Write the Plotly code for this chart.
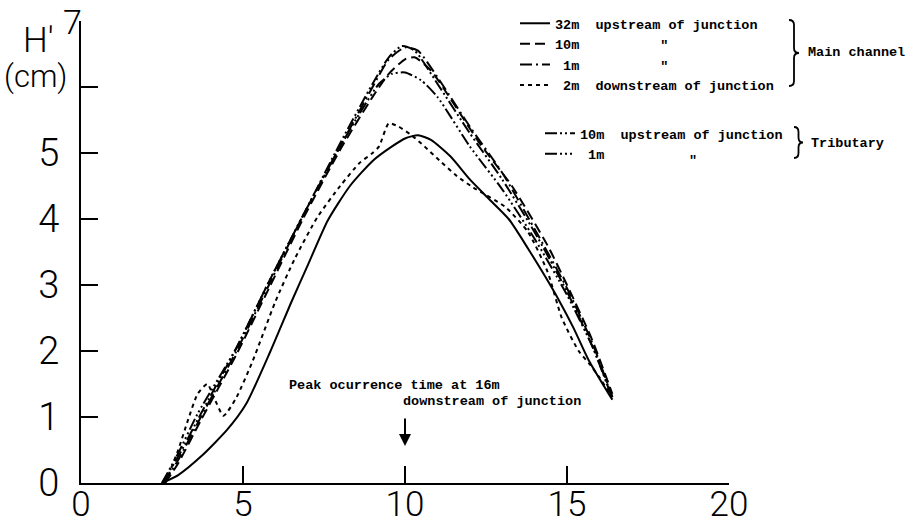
import plotly.graph_objects as go

# ---------------- data ----------------
# Main channel, 32 m upstream of junction (solid)
t_m32 = [2.5, 3.0, 3.7, 4.5, 5.1, 5.85, 6.5, 7.0, 7.62, 8.3, 9.0, 9.6, 10.0, 10.4, 10.8, 11.4, 12.0, 12.6, 13.2, 13.8, 14.3, 14.75, 15.2, 15.67, 16.4]
h_m32 = [0.0, 0.12, 0.4, 0.8, 1.2, 2.0, 2.75, 3.3, 3.98, 4.5, 4.88, 5.1, 5.22, 5.27, 5.2, 4.95, 4.6, 4.3, 4.0, 3.55, 3.15, 2.77, 2.35, 1.86, 1.26]

# Main channel, 10 m upstream (dashed)
t_m10 = [2.6, 3.0, 3.7, 4.8, 5.8, 6.85, 8.0, 9.0, 9.5, 10.0, 10.3, 10.8, 11.5, 12.3, 13.3, 14.4, 15.0, 15.75, 16.4]
h_m10 = [0.0, 0.3, 0.95, 1.95, 2.95, 4.0, 5.05, 5.85, 6.2, 6.42, 6.45, 6.25, 5.75, 5.15, 4.5, 3.6, 3.0, 2.2, 1.35]

# Main channel, 1 m upstream (dash-dot)
t_m1 = [2.55, 3.0, 3.7, 4.8, 5.8, 6.85, 8.0, 9.0, 9.5, 10.0, 10.4, 11.0, 12.0, 13.0, 14.0, 15.0, 15.8, 16.4]
h_m1 = [0.0, 0.35, 1.0, 2.0, 3.0, 4.05, 5.1, 6.0, 6.42, 6.6, 6.55, 6.15, 5.4, 4.7, 3.85, 2.95, 2.1, 1.3]

# Main channel, 2 m downstream (short dashes)
t_d2 = [2.6, 3.0, 3.3, 3.6, 3.9, 4.1, 4.4, 4.8, 5.3, 6.0, 6.6, 7.3, 8.0, 8.6, 9.0, 9.2, 9.5, 9.8, 10.2, 10.6, 11.06, 11.6, 12.1, 13.1, 13.8, 14.4, 14.84, 15.36, 15.7, 16.0, 16.4]
h_d2 = [0.0, 0.5, 0.95, 1.35, 1.5, 1.3, 1.02, 1.3, 1.85, 2.75, 3.4, 4.03, 4.5, 4.85, 5.0, 5.1, 5.45, 5.4, 5.27, 5.1, 4.89, 4.65, 4.48, 4.18, 3.8, 3.2, 2.5, 2.0, 1.8, 1.6, 1.3]

# Tributary, 10 m upstream
t_t10 = [2.5, 3.0, 3.7, 4.8, 5.8, 6.85, 8.0, 9.0, 9.5, 9.9, 10.3, 11.0, 12.0, 13.0, 14.0, 15.0, 15.8, 16.4]
h_t10 = [0.0, 0.4, 1.05, 2.05, 3.05, 4.05, 5.15, 6.05, 6.45, 6.62, 6.55, 6.05, 5.3, 4.6, 3.8, 2.9, 2.05, 1.28]

# Tributary, 1 m upstream
t_t1 = [2.5, 3.0, 3.6, 4.8, 5.8, 6.85, 8.0, 8.6, 9.2, 9.6, 10.0, 10.5, 11.0, 12.0, 13.0, 14.0, 15.0, 15.8, 16.4]
h_t1 = [0.0, 0.45, 1.05, 2.05, 3.05, 4.05, 5.1, 5.6, 6.05, 6.2, 6.22, 6.1, 5.85, 5.1, 4.45, 3.7, 2.85, 2.05, 1.3]

x_ticks = [0, 5, 10, 15, 20]
x_ticktext = ["0", "5", "10", "15", "20"]
y_ticks = [0, 1, 2, 3, 4, 5, 6, 7]
y_ticktext = ["0", "1", "2", "3", "4", "5", "", ""]

NB = "\u00a0"
names_main = ["32m" + NB * 2 + "upstream of junction",
              "10m" + NB * 10 + "\u2033",
              NB + "1m" + NB * 10 + "\u2033",
              NB + "2m" + NB * 2 + "downstream of junction"]
names_trib = ["10m" + NB * 2 + "upstream of junction",
              NB + "1m"]

# ---------------- layout helpers ----------------
W, H = 915, 526
L, R, T, B = 81, 729, 21, 483


def pxx(xp):
    return (xp - L) / (R - L)


def pxy(yp):
    return (B - yp) / (B - T)


MONO = dict(family="Liberation Mono", size=13.5, color="black", weight="bold")
TICKFONT = dict(family="Roboto", size=38, color="black", weight=300)
XTICKFONT = dict(family="Roboto", size=35, color="black", weight=300)

fig = go.Figure()

series = [
    (t_m32, h_m32, names_main[0], "solid", "legend"),
    (t_m10, h_m10, names_main[1], "10px,5px", "legend"),
    (t_m1, h_m1, names_main[2], "12px,4px,2px,4px", "legend"),
    (t_d2, h_d2, names_main[3], "4px,4px", "legend"),
    (t_t10, h_t10, names_trib[0], "12px,3px,2px,3px,2px,3px", "legend2"),
    (t_t1, h_t1, names_trib[1], "12px,3px,2px,3px,2px,3px,2px,3px", "legend2"),
]
for xs, ys, nm, dash, lg in series:
    fig.add_trace(go.Scatter(x=xs, y=ys, mode="lines", name=nm, legend=lg,
                             line=dict(color="black", width=2, dash=dash,
                                       shape="spline", smoothing=0.6)))

fig.update_layout(
    width=W, height=H,
    margin=dict(l=L, r=W - R, t=T, b=H - B, pad=0, autoexpand=False),
    paper_bgcolor="white", plot_bgcolor="white",
    showlegend=True,
    legend=dict(x=pxx(515), y=pxy(8), xanchor="left", yanchor="top",
                font=MONO, bgcolor="rgba(0,0,0,0)", itemwidth=30,
                tracegroupgap=0),
    legend2=dict(x=pxx(540), y=pxy(118), xanchor="left", yanchor="top",
                 font=MONO, bgcolor="rgba(0,0,0,0)", itemwidth=30),
    xaxis=dict(range=[0, 20], tickvals=x_ticks, ticktext=x_ticktext,
               showline=True, linewidth=2, linecolor="black",
               ticks="inside", ticklen=17, tickwidth=2, tickcolor="black",
               showgrid=False, zeroline=False, tickfont=XTICKFONT,
               ticklabelstandoff=-11, automargin=False),
    yaxis=dict(range=[0, 7], tickvals=y_ticks, ticktext=y_ticktext,
               showline=True, linewidth=2, linecolor="black",
               ticks="inside", ticklen=17, tickwidth=2, tickcolor="black",
               showgrid=False, zeroline=False, tickfont=TICKFONT,
               ticklabelstandoff=12, automargin=False),
)

annots = []
# Axis title pieces
annots.append(dict(xref="paper", yref="paper", x=pxx(72), y=pxy(0), text="7",
                   showarrow=False, font=dict(family="Roboto", size=34, color="black", weight=300),
                   xanchor="center", yanchor="top"))
annots.append(dict(xref="paper", yref="paper", x=pxx(38), y=pxy(40), text="H\u2032",
                   showarrow=False, font=dict(family="Roboto", size=35, color="black", weight=300),
                   xanchor="center", yanchor="middle"))
annots.append(dict(xref="paper", yref="paper", x=pxx(35), y=pxy(76), text="(cm)",
                   showarrow=False, font=dict(family="Roboto", size=31, color="black", weight=300),
                   xanchor="center", yanchor="middle"))
# Group labels
annots.append(dict(xref="paper", yref="paper", x=pxx(806), y=pxy(53), text="Main channel",
                   showarrow=False, font=MONO, xanchor="left", yanchor="middle"))
annots.append(dict(xref="paper", yref="paper", x=pxx(809), y=pxy(143), text="Tributary",
                   showarrow=False, font=MONO, xanchor="left", yanchor="middle"))
annots.append(dict(xref="paper", yref="paper", x=pxx(693), y=pxy(161), text="\u2033",
                   showarrow=False, font=MONO, xanchor="center", yanchor="middle"))
# Peak note
annots.append(dict(xref="paper", yref="paper", x=pxx(287), y=pxy(385), text="Peak ocurrence time at 16m",
                   showarrow=False, font=MONO, xanchor="left", yanchor="middle"))
annots.append(dict(xref="paper", yref="paper", x=pxx(401), y=pxy(401), text="downstream of junction",
                   showarrow=False, font=MONO, xanchor="left", yanchor="middle"))
annots.append(dict(xref="x", yref="y", x=10, y=(B - 446) / 66.0, text="", showarrow=True,
                   axref="pixel", ayref="pixel", ax=0, ay=-29, arrowhead=2, arrowsize=1.2,
                   arrowwidth=2, arrowcolor="black"))
fig.update_layout(annotations=annots)


def brace(x0, ytop, ybot, w=10):
    ym = (ytop + ybot) / 2.0
    pts = [
        ("M", [(x0, ytop)]),
        ("Q", [(x0 + w / 2, ytop), (x0 + w / 2, ytop + 5)]),
        ("L", [(x0 + w / 2, ym - 5)]),
        ("Q", [(x0 + w / 2, ym), (x0 + w, ym)]),
        ("Q", [(x0 + w / 2, ym), (x0 + w / 2, ym + 5)]),
        ("L", [(x0 + w / 2, ybot - 5)]),
        ("Q", [(x0 + w / 2, ybot), (x0, ybot)]),
    ]
    s = ""
    for cmd, ps in pts:
        s += cmd + " ".join("%.5f,%.5f" % (pxx(a), pxy(b)) for a, b in ps) + " "
    return s.strip()


fig.add_shape(type="path", xref="paper", yref="paper", path=brace(789, 20, 86),
              line=dict(color="black", width=1.8))
fig.add_shape(type="path", xref="paper", yref="paper", path=brace(794, 127, 158, 9),
              line=dict(color="black", width=1.8))

fig.write_html("out.html")
